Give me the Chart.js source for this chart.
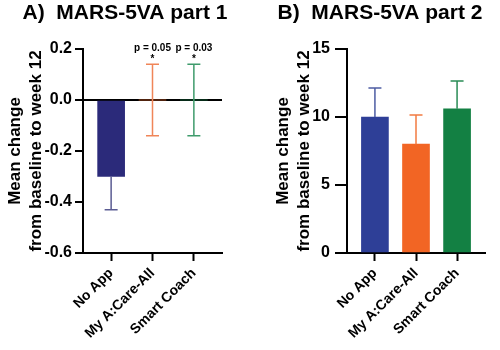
<!DOCTYPE html>
<html>
<head>
<meta charset="utf-8">
<script src="https://cdn.jsdelivr.net/npm/chart.js@4/dist/chart.umd.min.js"></script>
<style>
  html, body { margin: 0; padding: 0; background: #fff; }
  #wrap { position: relative; width: 500px; height: 350px; }
  .panel { position: absolute; top: 0; height: 350px; }
  #panelA { left: 0; width: 250px; }
  #panelB { left: 260px; width: 240px; }
</style>
</head>
<body>
<div id="wrap">
  <div class="panel" id="panelA"><canvas id="chartA"></canvas></div>
  <div class="panel" id="panelB"><canvas id="chartB"></canvas></div>
</div>
<script>
"use strict";

const categories = ['No App', 'My A:Care-All', 'Smart Coach'];

// A) MARS-5VA part 1
const part1Means = [-0.30, 0.00, 0.00];
const part1Errors = [0.13, 0.14, 0.14];
const part1PValues = ['', 'p = 0.05', 'p = 0.03'];
const part1Ticks = [-0.6, -0.4, -0.2, 0.0, 0.2];

// B) MARS-5VA part 2
const part2Means = [10.0, 8.0, 10.6];
const part2Errors = [2.13, 2.15, 2.05];
const part2Ticks = [0, 5, 10, 15];

const part1Colors = ['#2b2a7a', '#f26a2c', '#17824a'];
const part1ErrorColors = ['#5b5c93', '#f08558', '#3f9b6c'];
const part2Colors = ['#2e3f97', '#f26524', '#138043'];
const part2ErrorColors = ['#4d5ca3', '#f27b42', '#2a8c55'];

const FONT = "'Liberation Sans', Arial, sans-serif";
Chart.defaults.font.family = FONT;
Chart.defaults.color = '#000';

function errorBarPlugin(means, errors, colors, pLabels) {
  return {
    id: 'errorBars',
    afterDatasetsDraw(chart) {
      const ctx = chart.ctx;
      const x = chart.scales.x;
      const y = chart.scales.y;
      ctx.save();
      ctx.lineWidth = 1.5;
      means.forEach((m, i) => {
        const px = x.getPixelForValue(i);
        const hi = m >= 0 ? m + errors[i] : m;
        const lo = m <= 0 ? m - errors[i] : m;
        const yHi = y.getPixelForValue(hi);
        const yLo = y.getPixelForValue(lo);
        ctx.strokeStyle = colors[i];
        ctx.beginPath();
        ctx.moveTo(px, yHi);
        ctx.lineTo(px, yLo);
        if (hi !== m) { ctx.moveTo(px - 6.5, yHi); ctx.lineTo(px + 6.5, yHi); }
        if (lo !== m) { ctx.moveTo(px - 6.5, yLo); ctx.lineTo(px + 6.5, yLo); }
        ctx.stroke();
        if (pLabels && pLabels[i]) {
          ctx.fillStyle = '#000';
          ctx.textAlign = 'center';
          ctx.textBaseline = 'middle';
          ctx.font = 'bold 10px ' + FONT;
          ctx.fillText(pLabels[i], px, yHi - 16);
          ctx.fillText('*', px, yHi - 5);
        }
      });
      ctx.restore();
    }
  };
}

function buildChart(id, cfg) {
  return new Chart(document.getElementById(id), {
    type: 'bar',
    data: {
      datasets: [{
        data: cfg.means.map((v, i) => ({ x: i, y: v })),
        backgroundColor: cfg.colors,
        borderWidth: 0,
        barThickness: 27,
      }]
    },
    options: {
      responsive: true,
      maintainAspectRatio: false,
      animation: false,
      layout: { padding: 0 },
      plugins: {
        legend: { display: false },
        tooltip: { enabled: false },
        title: {
          display: true,
          text: cfg.title,
          color: '#000',
          font: { size: 21, weight: 'bold', lineHeight: 1.2 },
          padding: { top: 1, bottom: 22.8 },
        },
      },
      scales: {
        x: {
          type: 'linear',
          offset: false,
          min: -0.68,
          max: 2.68,
          afterBuildTicks: (s) => { s.ticks = categories.map((c, i) => ({ value: i })); },
          afterFit: (s) => { s.height = 97; },
          ticks: {
            callback: (v) => categories[v],
            autoSkip: false,
            minRotation: 45,
            maxRotation: 45,
            padding: 4,
            color: '#000',
            font: { size: 14, weight: 'bold' },
          },
          grid: { offset: false, drawOnChartArea: false, tickLength: 8, tickColor: '#000', tickWidth: 2 },
          border: { color: '#000', width: 2 },
        },
        y: {
          min: cfg.ticks[0],
          max: cfg.ticks[cfg.ticks.length - 1],
          afterBuildTicks: (s) => { s.ticks = cfg.ticks.map((v) => ({ value: v })); },
          afterFit: (s) => { s.width = cfg.areaLeft; },
          ticks: {
            callback: cfg.tickFormat,
            padding: cfg.tickPad,
            color: '#000',
            font: { size: 16, weight: 'bold' },
          },
          grid: {
            drawOnChartArea: cfg.zeroLine,
            color: (c) => (c.tick && c.tick.value === 0 ? '#000' : 'rgba(0,0,0,0)'),
            lineWidth: 2,
            tickLength: cfg.tickLen,
            tickColor: '#000',
            tickWidth: 2,
          },
          border: { color: '#000', width: 2 },
          title: {
            display: true,
            text: ['Mean change', 'from baseline to week 12'],
            color: '#000',
            font: { size: 17, weight: 'bold', lineHeight: 1.24 },
            padding: { top: cfg.titlePad, bottom: 0 },
          },
        },
        pad: {
          position: 'right',
          display: true,
          afterFit: (s) => { s.width = cfg.areaRightPad; },
          ticks: { display: false },
          grid: { display: false },
          border: { display: false },
        },
      },
    },
    plugins: [errorBarPlugin(cfg.means, cfg.errors, cfg.errorColors, cfg.pLabels)],
  });
}

buildChart('chartA', {
  title: 'A)  MARS-5VA part 1',
  means: part1Means,
  errors: part1Errors,
  colors: part1Colors,
  errorColors: part1ErrorColors,
  pLabels: part1PValues,
  ticks: part1Ticks,
  tickFormat: (v) => (Math.abs(v) < 1e-9 ? '0.0' : v.toFixed(1)),
  zeroLine: true,
  areaLeft: 83,
  areaRightPad: 28,
  tickLen: 8,
  tickPad: 3,
  titlePad: 4.5,
});

buildChart('chartB', {
  title: 'B)  MARS-5VA part 2',
  means: part2Means,
  errors: part2Errors,
  colors: part2Colors,
  errorColors: part2ErrorColors,
  pLabels: null,
  ticks: part2Ticks,
  tickFormat: (v) => String(v),
  zeroLine: false,
  areaLeft: 87,
  areaRightPad: 15,
  tickLen: 12,
  tickPad: 5,
  titlePad: 12.5,
});
</script>
</body>
</html>
